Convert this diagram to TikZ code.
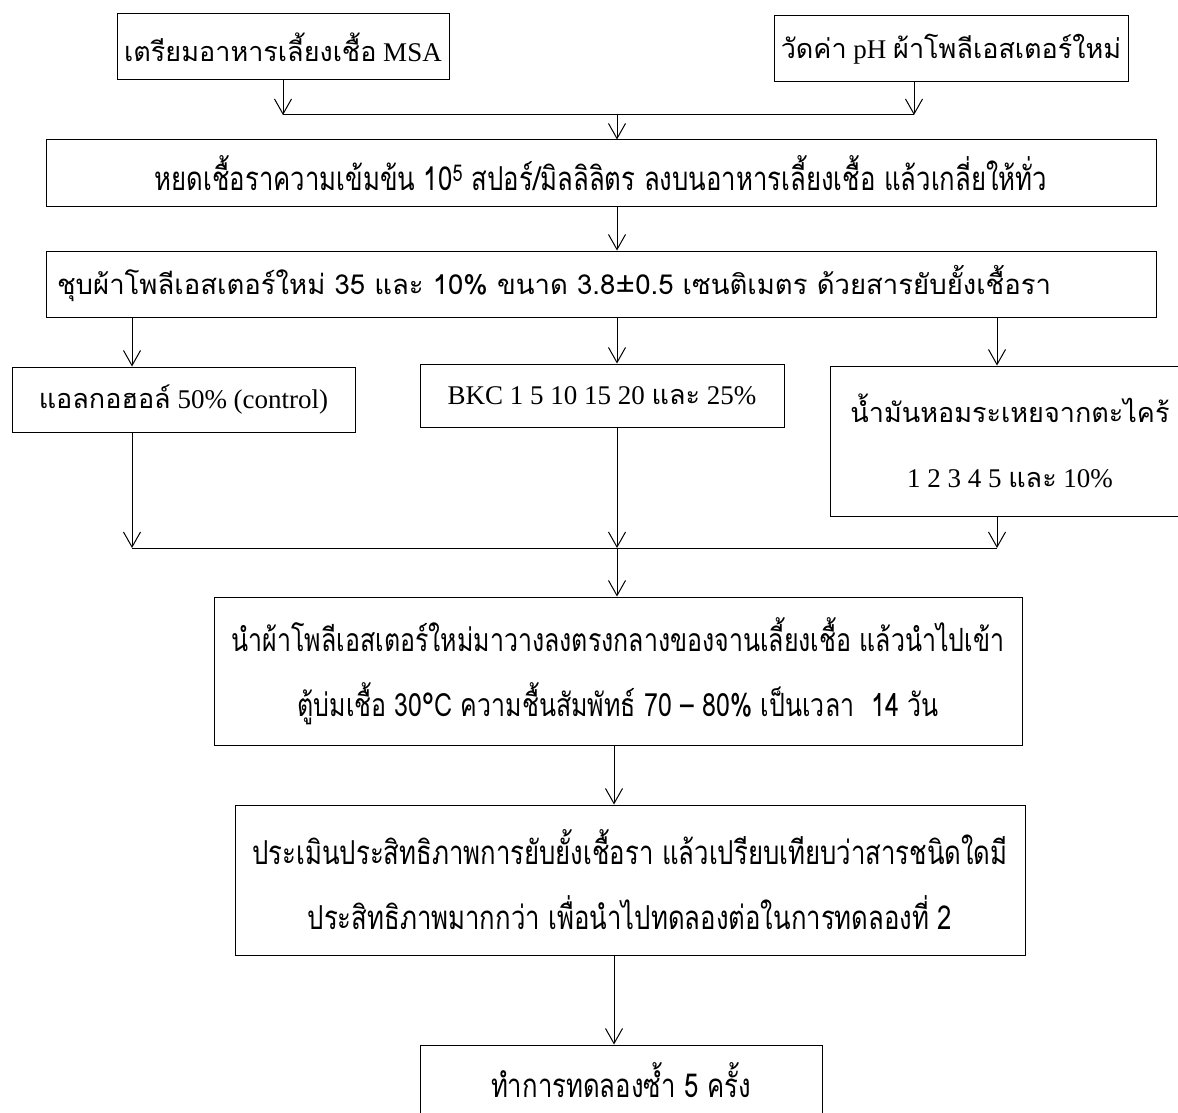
\documentclass[tikz,border=0pt]{standalone}
\usepackage{fontspec}
\setmainfont{Liberation Serif}
\newfontfamily\thai[Script=Thai]{Loma}
\newfontfamily\thain[Script=Thai,FakeStretch=0.78]{Loma}
\usetikzlibrary{arrows.meta}

\begin{document}
\begin{tikzpicture}[x=1pt,y=-1pt,line width=1pt,
  >={Straight Barb[length=15pt,width=17pt]},
  box/.style={draw,inner sep=0pt,align=center,font=\fontsize{27}{65}\selectfont},
  nbox/.style={box,font=\thain\fontsize{33}{65}\selectfont}]
\useasboundingbox (0,0) rectangle (1178,1113);

% top row
\node[box,minimum width=332,minimum height=66] (msa) at (283,47) {{\thai เตรียมอาหารเลี้ยงเชื้อ} MSA};
\node[box,minimum width=354,minimum height=66] (ph) at (951,49) {{\thai วัดค่า} pH {\thai ผ้าโพลีเอสเตอร์ใหม่}};
\node[nbox,minimum width=1110,minimum height=66] (drop) at (601,173) {หยดเชื้อราความเข้มข้น 10\textsuperscript{5} สปอร์/มิลลิลิตร ลงบนอาหารเลี้ยงเชื้อ แล้วเกลี่ยให้ทั่ว};
\node[box,font=\thai\fontsize{27.5}{65}\selectfont,align=left,text width=1088,inner xsep=11,minimum height=66] (dip) at (601,284) {ชุบผ้าโพลีเอสเตอร์ใหม่ 35 และ 10\% ขนาด 3.8±0.5 เซนติเมตร ด้วยสารยับยั้งเชื้อรา};

% three treatments
\node[box,minimum width=343,minimum height=65] (alc) at (183.5,399.5) {{\thai แอลกอฮอล์} 50\% (control)};
\node[box,minimum width=364,minimum height=63] (bkc) at (602,395.5) {BKC 1 5 10 15 20 {\thai และ} 25\%};
\node[box,minimum width=360,minimum height=150] (oil) at (1010,441) {{\thai น้ำมันหอมระเหยจากตะไคร้}\\1 2 3 4 5 {\thai และ} 10\%};

% lower steps
\node[nbox,font=\thain\fontsize{32}{65}\selectfont,minimum width=808,minimum height=148] (place) at (618,671) {นำผ้าโพลีเอสเตอร์ใหม่มาวางลงตรงกลางของจานเลี้ยงเชื้อ แล้วนำไปเข้า\\ตู้บ่มเชื้อ 30°C ความชื้นสัมพัทธ์ 70 – 80\% เป็นเวลา~ 14 วัน};
\node[nbox,minimum width=790,minimum height=150] (eval) at (630,880) {ประเมินประสิทธิภาพการยับยั้งเชื้อรา แล้วเปรียบเทียบว่าสารชนิดใดมี\\ประสิทธิภาพมากกว่า เพื่อนำไปทดลองต่อในการทดลองที่ 2};
\node[nbox,minimum width=402,minimum height=70] (rep) at (621,1080) {ทำการทดลองซ้ำ 5 ครั้ง};

\coordinate (jl) at (283,115);
\coordinate (jr) at (914,115);
\coordinate (jm) at (617,115);
\coordinate (cl) at (132,548);
\coordinate (cm) at (617,548);
\coordinate (cr) at (997,548);
\coordinate (ax) at (614,0);

\draw[->] (msa) -- (jl);
\draw[->] (ph.south -| jr) -- (jr);
\draw (jl) -- (jr);
\draw[->] (jm) -- (drop.north -| jm);
\draw[->] (drop.south -| jm) -- (dip.north -| jm);

\draw[->] (dip.south -| cl) -- (alc.north -| cl);
\draw[->] (dip.south -| cm) -- (bkc.north -| cm);
\draw[->] (dip.south -| cr) -- (oil.north -| cr);
\draw[->] (alc.south -| cl) -- (cl);
\draw[->] (bkc.south -| cm) -- (cm);
\draw[->] (oil.south -| cr) -- (cr);
\draw (cl) -- (cr);

\draw[->] (cm) -- (place.north -| cm);
\draw[->] (place.south -| ax) -- (eval.north -| ax);
\draw[->] (eval.south -| ax) -- (rep.north -| ax);
\end{tikzpicture}
\end{document}
